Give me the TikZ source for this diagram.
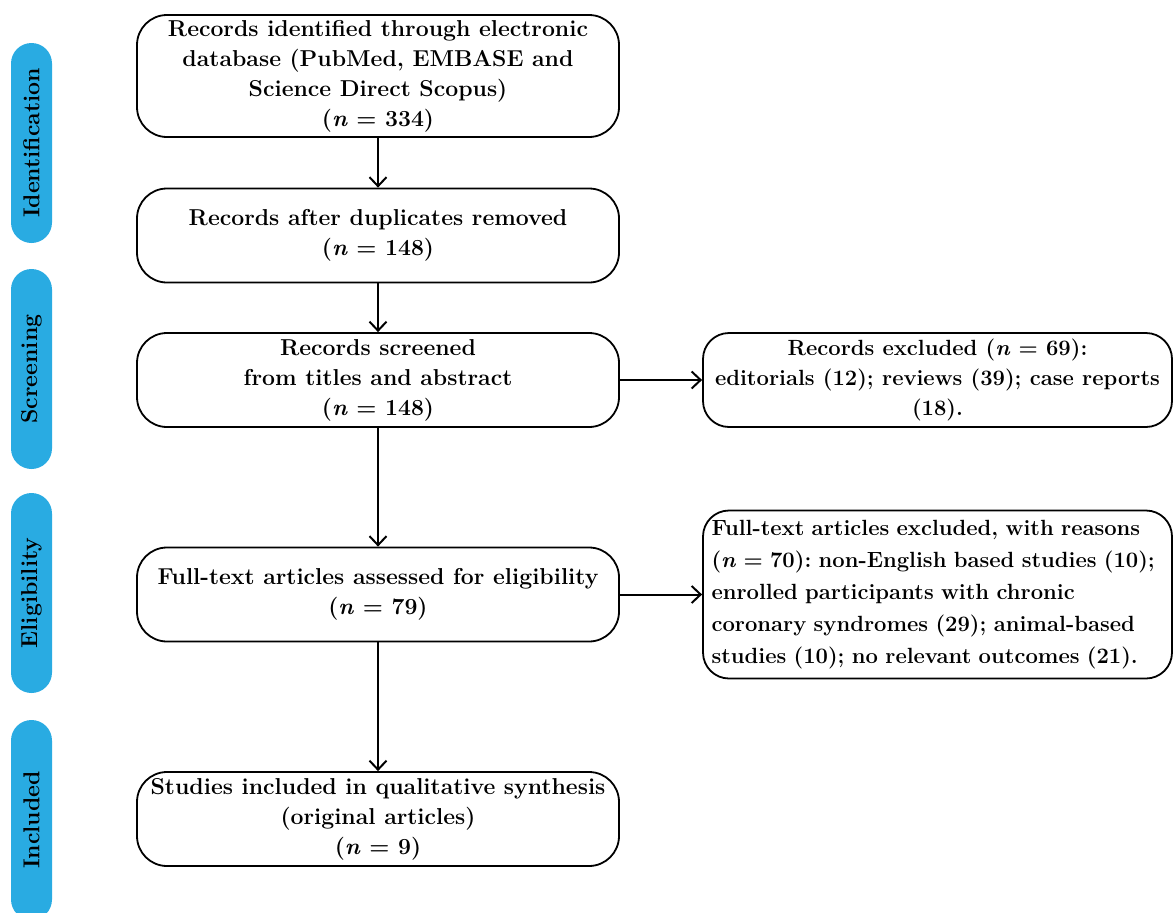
\documentclass[tikz,border=0pt]{standalone}
\usepackage{tikz}
\usetikzlibrary{positioning, arrows.meta}
\definecolor{stageblue}{RGB}{41,171,226}
\frenchspacing

\begin{document}
\begin{tikzpicture}[x=1pt, y=-1pt, node distance=150pt, on grid, auto,
   font=\fontsize{23}{30}\selectfont\bfseries,
   box/.style={draw, rounded corners=30pt, line width=1.8pt, fill=white,
      minimum width=482pt, minimum height=94pt, align=center, inner sep=2pt},
   side/.style={box, minimum width=469pt, rounded corners=26pt,
      font=\fontsize{22}{30}\selectfont\bfseries},
   stage/.style={fill=stageblue, rounded corners=20.5pt, minimum width=200pt,
      minimum height=41pt, rotate=90, inner sep=0pt},
   flow/.style={-{Straight Barb[length=9pt,width=17pt]}, line width=2pt}]
   \useasboundingbox (0,0) rectangle (1173,913);
   % stages on the left
   \node[stage] (st_id)   at (31.5,143) {Identification};
   \node[stage] (st_scr)  at (31.5,369) {Screening};
   \node[stage] (st_elig) at (31.5,593) {Eligibility};
   \node[stage] (st_incl) at (31.5,820) {Included};
   % main column
   \node[box, minimum height=122pt] (rec_id) at (378,76)
      {Records identified through electronic\\database (PubMed, EMBASE and\\Science Direct Scopus)\\(\textit{n} = 334)};
   \node[box] (rec_dup) [below=159.5pt of rec_id]
      {Records after duplicates removed\\(\textit{n} = 148)};
   \node[box] (rec_scr) [below=144.5pt of rec_dup]
      {Records screened\\from titles and abstract\\(\textit{n} = 148)};
   \node[box] (full_txt) [below=214.5pt of rec_scr]
      {Full-text articles assessed for eligibility\\(\textit{n} = 79)};
   \node[box] (incl) [below=224.5pt of full_txt]
      {Studies included in qualitative synthesis\\(original articles)\\(\textit{n} = 9)};
   % exclusions
   \node[side] (excl_scr) [right=559.5pt of rec_scr]
      {Records excluded (\textit{n} = 69):\\editorials (12); reviews (39); case reports\\(18).};
   \node[side, minimum height=168pt, text width=452pt, align=left,
      font=\fontsize{22}{32}\selectfont\bfseries] (excl_full) [right=559.5pt of full_txt]
      {Full-text articles excluded, with reasons\\(\textit{n} = 70): non-English based studies (10);\\enrolled participants with chronic\\coronary syndromes (29); animal-based\\studies (10); no relevant outcomes (21).};
   \path[flow]
    (rec_id)   edge (rec_dup)
    (rec_dup)  edge (rec_scr)
    (rec_scr)  edge (full_txt)
    (full_txt) edge (incl)
    (rec_scr)  edge (excl_scr)
    (full_txt) edge (excl_full)
    ;
\end{tikzpicture}
\end{document}
